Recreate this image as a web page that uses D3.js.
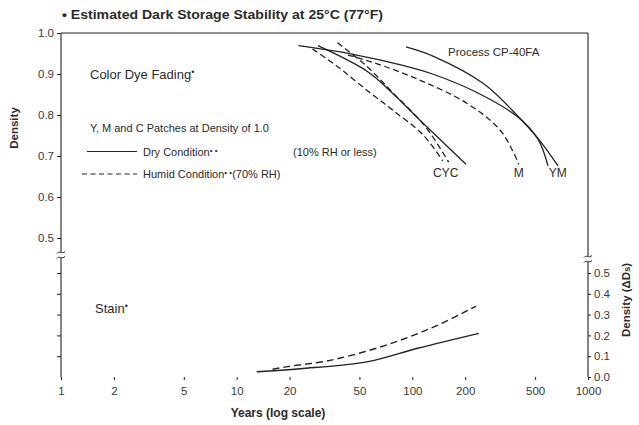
<!DOCTYPE html>
<html>
<head>
<meta charset="utf-8">
<script src="https://cdn.jsdelivr.net/npm/d3@7"></script>
<style>
body{margin:0;background:#fff}
svg{font-family:'Liberation Sans',Arial,sans-serif}
text{fill:#2b2b2b}
</style>
</head>
<body>
<svg class="graph"></svg>
<script>
let yearTicks=[1,2,5,10,20,50,100,200,500,1000]
let densTicks=[1.0,0.9,0.8,0.7,0.6,0.5]
let stainTicks=[0,0.1,0.2,0.3,0.4,0.5]

// color dye fading, [years, density]
let cDry=[[29,0.969],[56,0.905],[78,0.851],[112,0.785],[202,0.680]]
let cHumid=[[27,0.961],[36.5,0.922],[56,0.858],[80,0.807],[115,0.752],[149,0.688]]
let yHumid=[[37.5,0.976],[54,0.922],[78,0.853],[119,0.771],[161,0.685]]
let mHumid=[[43,0.946],[60,0.928],[109,0.886],[207,0.827],[319,0.761],[404,0.680]]
let yDry=[[22.5,0.969],[46,0.948],[86,0.922],[130,0.900],[230,0.856],[399,0.795],[519,0.741],[592,0.676]]
let mDry=[[92,0.966],[132,0.943],[255,0.876],[399,0.797],[519,0.743],[675,0.676]]

// stain, [years, delta Ds]
let stainHumid=[[16,0.037],[19.5,0.05],[34,0.08],[69,0.15],[132,0.24],[230,0.34]]
let stainDry=[[13,0.025],[23,0.04],[56,0.074],[107,0.138],[239,0.21]]

let fading=[
  {name:'C dry',values:cDry,dash:null},
  {name:'C humid',values:cHumid,dash:'6,3.5'},
  {name:'Y humid',values:yHumid,dash:'6,3.5'},
  {name:'M humid',values:mHumid,dash:'6,3.5'},
  {name:'Y dry',values:yDry,dash:null},
  {name:'M dry',values:mDry,dash:null}
]
let stain=[
  {name:'humid',values:stainHumid,dash:'7,4'},
  {name:'dry',values:stainDry,dash:null}
]
let curveLabels=[{t:'CYC',yr:155},{t:'M',yr:404},{t:'YM',yr:672}]

let width=639, height=425
let svg=d3.select('.graph').attr('width',width).attr('height',height)

let xscale=d3.scaleLog().domain([1,1000]).range([61,588])
let ytop=d3.scaleLinear().domain([0.5,1.0]).range([238,33])
let ylow=d3.scaleLinear().domain([0,0.5]).range([377,273])
let ink='#222'

// frame
let frame=svg.append('g').attr('stroke',ink).attr('stroke-width',1.1).attr('fill','none')
frame.append('line').attr('x1',xscale(1)).attr('x2',xscale(1000)).attr('y1',ytop(1)).attr('y2',ytop(1))
frame.append('line').attr('x1',xscale(1)).attr('x2',xscale(1)).attr('y1',ytop(1)).attr('y2',ylow(0))
frame.append('line').attr('x1',xscale(1000)).attr('x2',xscale(1000)).attr('y1',ytop(1)).attr('y2',ylow(0))

// axes
let xaxis=svg.append('g').attr('transform',`translate(0,${ylow(0)})`)
  .call(d3.axisBottom(xscale).tickValues(yearTicks).tickFormat(d=>d).tickSize(3).tickSizeOuter(0))
let yaxisTop=svg.append('g').attr('transform',`translate(${xscale(1)},0)`)
  .call(d3.axisLeft(ytop).tickValues(densTicks).tickFormat(d3.format('.1f')).tickSize(4).tickPadding(3))
let yaxisLow=svg.append('g').attr('transform',`translate(${xscale(1)},0)`)
  .call(d3.axisLeft(ylow).tickValues(stainTicks.slice(1)).tickFormat('').tickSize(4))
let yaxisRight=svg.append('g').attr('transform',`translate(${xscale(1000)},0)`)
  .call(d3.axisRight(ylow).tickValues(stainTicks).tickFormat(d3.format('.1f')).tickSize(3).tickPadding(3))

svg.selectAll('.domain').remove()
svg.selectAll('.tick line').attr('stroke',ink)
svg.selectAll('.tick text').style('font-size','11.5px').style('fill','#3a3a3a')
xaxis.selectAll('.tick text').attr('dy','1.05em')

// axis breaks
function axisBreak(x,y){
  svg.append('rect').attr('x',x-4).attr('y',y-3).attr('width',8).attr('height',6).attr('fill','#fff')
  ;[-2.5,2.5].forEach(o=>{
    svg.append('path')
      .attr('d',`M${x-4},${y+o+1} C${x-2},${y+o-2} ${x+1},${y+o+2} ${x+4},${y+o-1}`)
      .attr('stroke',ink).attr('fill','none').attr('stroke-width',1)
  })
}
axisBreak(xscale(1),255)
axisBreak(xscale(1000),259)

// curves
let lineTop=d3.line().x(d=>xscale(d[0])).y(d=>ytop(d[1])).curve(d3.curveCatmullRom.alpha(0.5))
let lineLow=d3.line().x(d=>xscale(d[0])).y(d=>ylow(d[1])).curve(d3.curveCatmullRom.alpha(0.5))

svg.selectAll('fadeline')
  .data(fading)
  .join('path')
  .attr('d',d=>lineTop(d.values))
  .attr('stroke',ink).attr('stroke-width',1.3).attr('fill','none')
  .attr('stroke-dasharray',d=>d.dash)

svg.selectAll('stainline')
  .data(stain)
  .join('path')
  .attr('d',d=>lineLow(d.values))
  .attr('stroke',ink).attr('stroke-width',1.4).attr('fill','none')
  .attr('stroke-dasharray',d=>d.dash)

svg.selectAll('curvelabel')
  .data(curveLabels)
  .join('text')
  .attr('x',d=>xscale(d.yr))
  .attr('y',ytop(0.66)+5)
  .attr('text-anchor','middle')
  .style('font-size','12px')
  .text(d=>d.t)

// texts
svg.append('text').attr('x',62).attr('y',19).style('font-size','13.5px').style('font-weight','bold')
  .attr('textLength',321).attr('lengthAdjust','spacingAndGlyphs')
  .text('\u2022 Estimated Dark Storage Stability at 25\u00b0C (77\u00b0F)')

let cdf=svg.append('text').attr('x',90).attr('y',79).style('font-size','13px')
cdf.append('tspan').text('Color Dye Fading')
cdf.append('tspan').attr('dy',-4).style('font-size','9px').text('\u2022')

svg.append('text').attr('x',90).attr('y',132).style('font-size','11px').text('Y, M and C Patches at Density of 1.0')

svg.append('line').attr('x1',87).attr('x2',137).attr('y1',151.5).attr('y2',151.5).attr('stroke',ink).attr('stroke-width',1.2)
svg.append('line').attr('x1',82).attr('x2',137).attr('y1',174).attr('y2',174).attr('stroke',ink).attr('stroke-width',1.2).attr('stroke-dasharray','5,3.5')
let l1=svg.append('text').attr('x',143).attr('y',156).style('font-size','11px')
l1.append('tspan').text('Dry Condition')
l1.append('tspan').attr('dy',-3).style('font-size','8px').text('\u2022 \u2022')
svg.append('text').attr('x',293).attr('y',156).style('font-size','11px').text('(10% RH or less)')
let l2=svg.append('text').attr('x',143).attr('y',178).style('font-size','11px')
l2.append('tspan').text('Humid Condition')
l2.append('tspan').attr('dy',-3).style('font-size','8px').text('\u2022 \u2022')
l2.append('tspan').attr('dy',3).text('(70% RH)')

svg.append('text').attr('x',448).attr('y',56).style('font-size','11.5px').text('Process  CP-40FA')

let st=svg.append('text').attr('x',95).attr('y',313).style('font-size','13px')
st.append('tspan').text('Stain')
st.append('tspan').attr('dy',-4).style('font-size','9px').text('\u2022')

svg.append('text').attr('transform','translate(18,128) rotate(-90)').attr('text-anchor','middle')
  .style('font-size','11.5px').style('font-weight','bold').text('Density')
let rt=svg.append('text').attr('transform','translate(630,300) rotate(-90)').attr('text-anchor','middle')
  .style('font-size','11.5px').style('font-weight','bold')
rt.append('tspan').text('Density (\u0394D')
rt.append('tspan').style('font-size','9px').text('s')
rt.append('tspan').text(')')

svg.append('text').attr('x',278).attr('y',417).attr('text-anchor','middle')
  .style('font-size','12px').style('font-weight','bold').text('Years (log scale)')
</script>
</body>
</html>
